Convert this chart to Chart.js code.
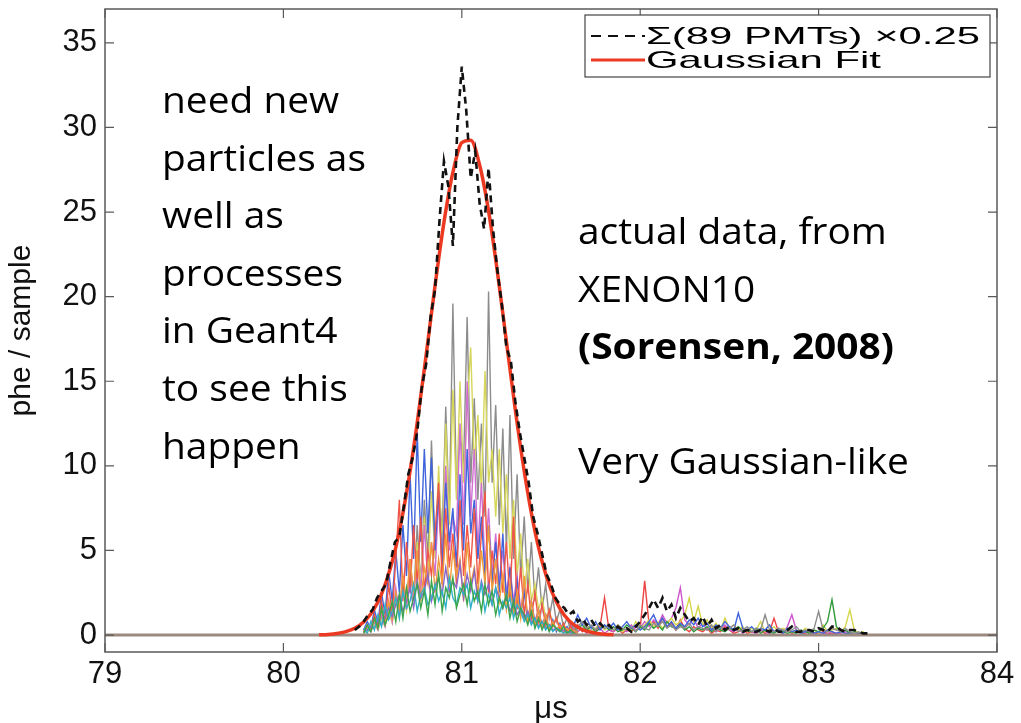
<!DOCTYPE html>
<html>
<head>
<meta charset="utf-8">
<script src="https://cdn.jsdelivr.net/npm/chart.js@4.4.1/dist/chart.umd.min.js"></script>
<style>
  html, body { margin: 0; padding: 0; background: #fff; }
  #wrap { position: relative; width: 1021px; height: 723px; }
  .note { position: absolute; font-family: "Open Sans", sans-serif; font-size: 36px; line-height: 57.6px; color: #000;
          white-space: nowrap; transform: scaleX(1.08); transform-origin: 0 0; }
</style>
</head>
<body>
<div id="wrap">
  <canvas id="chart" width="1021" height="723"></canvas>
  <div class="note" style="left:162px; top:71px;">need new<br>particles as<br>well as<br>processes<br>in Geant4<br>to see this<br>happen</div>
  <div class="note" style="left:578px; top:202px;">actual data, from<br>XENON10<br><b>(Sorensen, 2008)</b><br><br>Very Gaussian-like</div>
</div>
<script>
// axis ticks
const xTicks = [79, 80, 81, 82, 83, 84];
const yTicks = [0, 5, 10, 15, 20, 25, 30, 35];

// sample times (µs)
const tMain = [80.45,80.47,80.49,80.51,80.53,80.55,80.57,80.59,80.61,80.63,80.65,80.67,80.69,80.71,80.73,80.75,80.77,80.79,80.81,80.83,
  80.85,80.87,80.89,80.91,80.93,80.95,80.97,80.99,81.01,81.03,81.05,81.07,81.09,81.11,81.13,81.15,81.17,81.19,81.21,81.23,
  81.25,81.27,81.29,81.31,81.33,81.35,81.37,81.39,81.41,81.43,81.45,81.47,81.49,81.51,81.53,81.55,81.57,81.59,81.61,81.63,81.65];
const tTail = [81.600,81.625,81.650,81.675,81.700,81.725,81.750,81.775,81.800,81.825,81.850,81.875,81.900,81.925,81.950,81.975,
  82.000,82.025,82.050,82.075,82.100,82.125,82.150,82.175,82.200,82.225,82.250,82.275,82.300,82.325,82.350,82.375,82.400,82.425,
  82.450,82.475,82.500,82.525,82.550,82.575,82.600,82.625,82.650,82.675,82.700,82.725,82.750,82.775,82.800,82.825,82.850,82.875,
  82.900,82.925,82.950,82.975,83.000,83.025,83.050,83.075,83.100,83.125,83.150,83.175,83.200,83.225,83.250,83.275,83.300];
const tSum = [80.400,80.425,80.450,80.475,80.500,80.525,80.550,80.575,80.600,80.625,80.650,80.675,80.700,80.725,80.750,80.775,
  80.800,80.825,80.850,80.875,80.900,80.925,80.950,80.975,81.000,81.025,81.050,81.075,81.100,81.125,81.150,81.175,81.200,81.225,
  81.250,81.275,81.300,81.325,81.350,81.375,81.400,81.425,81.450,81.475,81.500,81.525,81.550,81.575];
const tFit = [80.20,80.25,80.30,80.35,80.40,80.45,80.50,80.55,80.60,80.65,80.70,80.75,80.80,80.85,80.90,80.95,81.00,81.05,
  81.10,81.15,81.20,81.25,81.30,81.35,81.40,81.45,81.50,81.55,81.60,81.65,81.70,81.75,81.80,81.85];
const tBase = [79, 84];

// summed signal x0.25 (dashed)
const sumMain = [0.3,0.5,0.8,1.2,1.5,2.2,2.6,3.0,4.3,5.5,5.8,7.6,9.5,10.5,12.0,14.6,16.0,18.8,20.4,24.5,28.0,26.5,23.0,30.0,
  33.6,31.0,27.0,28.6,25.5,24.0,27.6,24.0,21.5,19.5,17.0,16.2,13.8,12.0,10.5,9.0,7.0,6.0,4.8,3.6,3.0,2.2,1.8,1.6];
const sumTail = [1.2,1.4,0.8,1.0,0.6,0.9,0.5,0.7,0.4,0.6,0.3,0.5,0.3,0.4,0.2,0.5,
  0.8,1.2,1.6,2.1,1.6,2.2,1.4,1.8,1.0,1.6,1.2,0.8,1.0,0.6,1.1,0.5,0.9,0.4,0.6,0.3,0.5,0.3,0.4,0.2,
  0.3,0.2,0.2,0.3,0.3,0.2,0.4,0.2,0.2,0.3,0.5,0.2,0.2,0.3,0.3,0.2,
  0.4,0.3,0.2,0.5,0.5,0.3,0.2,0.3,0.3,0.2,0.1,0.1,0.0];

// Gaussian fit
const fitVals = [0.02,0.04,0.09,0.20,0.40,0.77,1.40,2.42,3.96,6.14,9.02,12.55,16.54,20.64,24.40,27.34,29.10,29.25,
  27.78,25.07,21.43,17.36,13.31,9.68,6.66,4.35,2.69,1.57,0.87,0.46,0.23,0.11,0.05,0.02];
const baseVals = [0, 0];

// single PMT traces, main pulse
const pmtGray = [0.2,0.5,0.3,0.8,0.4,1.0,0.6,1.5,0.8,2.0, 1.2,3.5,1.5,4.0,2.0,6.5,3.0,8.0,4.5,11.5,
  5.0,9.0,6.0,13.5,7.0,19.6,8.5,12.0,10.0,18.8, 9.0,14.0,8.0,12.5,7.0,20.3,9.0,13.6,6.5,12.2,
  5.0,13.0,4.5,9.5,3.5,7.0,2.5,5.5,2.0,4.0, 1.5,3.0,1.0,2.2,0.8,1.5,0.5,1.0,0.3,0.6,0.2];
const pmtYellow = [0.1,0.3,0.2,0.6,0.3,0.9,0.5,1.4,0.7,2.2, 1.0,3.0,1.5,4.5,2.0,5.5,3.0,7.0,3.5,8.5,
  4.5,10.0,5.0,12.5,6.5,14.5,8.0,15.0,9.0,13.5, 17.0,10.0,13.0,8.5,15.6,9.0,11.0,7.0,11.0,6.0,
  9.5,4.5,8.0,3.5,6.0,2.5,4.5,2.0,3.0,1.5, 2.2,1.0,1.5,0.6,1.0,0.4,0.6,0.2,0.4,0.1,0.2];
const pmtBlue = [0.3,0.8,0.4,1.5,0.7,2.5,1.2,3.8,2.0,5.0, 2.5,6.5,3.5,9.5,4.5,12.0,5.5,11.0,6.0,10.5,
  5.0,8.5,4.0,9.0,5.5,7.5,4.0,9.5,5.0,11.0, 6.0,8.0,4.5,7.0,3.5,6.5,3.0,5.5,2.5,6.0,
  2.0,4.0,1.5,3.2,1.2,2.5,0.8,2.0,0.6,1.5, 0.5,1.2,0.3,0.9,0.2,0.7,0.2,0.5,0.1,0.3,0.1];
const pmtRed = [0.2,0.6,0.3,1.2,0.5,2.0,0.8,3.0,1.2,4.5, 8.0,2.0,5.5,2.5,6.5,3.0,7.0,2.5,5.0,3.5,
  6.0,9.0,3.0,7.5,4.0,6.0,3.0,8.0,3.5,6.5, 4.0,7.5,3.0,6.0,8.5,2.5,5.0,3.0,6.0,2.5,
  5.5,2.0,7.0,1.5,4.0,1.2,3.0,1.0,2.5,0.8, 1.8,0.6,1.5,0.5,1.0,0.3,0.7,0.2,0.5,0.1,0.2];
const pmtMagenta = [0.1,0.4,0.2,0.8,0.3,1.2,0.5,2.0,0.8,2.8, 1.2,3.5,1.5,4.5,2.0,5.0,2.5,6.5,3.0,5.5,
  3.5,8.0,4.0,10.0,5.0,7.0,6.0,12.5,6.5,15.0, 7.0,11.0,5.0,9.0,4.0,7.5,3.5,6.0,3.0,5.0,
  2.5,4.0,2.0,3.5,1.5,2.8,1.0,2.0,0.8,1.5, 0.5,1.0,0.4,0.8,0.3,0.5,0.2,0.4,0.1,0.2,0.1];
const pmtOrange = [0.2,0.5,0.3,0.9,0.4,1.5,0.7,2.0,1.0,2.5, 1.5,3.5,2.0,4.5,2.5,5.0,2.0,4.0,3.0,5.5,
  2.5,4.5,3.0,6.0,2.5,5.0,3.5,4.5,2.0,5.5, 3.0,4.0,2.5,5.0,3.0,6.5,2.5,4.5,2.0,3.5,
  1.5,3.0,1.2,2.5,1.0,3.5,0.8,2.0,0.6,1.5, 0.5,1.2,0.4,0.8,0.3,0.6,0.2,0.4,0.1,0.3,0.1];
const pmtGreen = [0.1,0.6,0.2,1.0,0.4,1.6,0.6,1.2,2.0,0.8, 2.4,1.0,2.8,1.4,2.2,3.0,1.6,2.6,1.2,3.2,
  1.8,3.6,1.4,2.8,2.2,3.4,1.6,2.4,3.0,1.8, 3.2,2.0,2.6,1.4,3.0,1.8,2.6,1.2,2.2,1.6,
  2.4,1.0,2.0,0.8,1.6,1.2,0.6,1.4,0.4,1.0, 0.3,0.8,0.2,0.6,0.4,0.2,0.5,0.1,0.3,0.1,0.0];
const pmtCyan = [0.4,0.1,0.8,0.3,1.2,0.5,1.8,0.9,1.4,2.2, 1.0,2.6,1.6,2.0,3.0,1.4,2.4,2.8,1.8,2.2,
  3.0,2.0,2.6,1.6,3.4,2.2,1.8,2.8,2.4,3.0, 1.6,2.6,2.0,3.0,1.4,2.4,1.8,2.8,1.2,2.0,
  1.6,2.2,1.0,1.8,1.4,0.8,1.2,0.6,1.0,0.4, 0.8,0.3,0.6,0.2,0.4,0.3,0.1,0.2,0.1,0.1,0.0];
const pmtPurple = [0.2,0.3,0.5,0.4,0.9,0.6,1.0,1.6,1.1,1.8, 2.4,1.4,2.0,2.8,1.6,3.2,2.2,2.6,3.6,2.0,
  2.8,3.4,2.4,4.0,2.6,3.2,2.8,4.2,2.2,3.6, 2.6,3.8,2.0,3.2,2.4,3.0,1.8,2.8,2.2,1.6,
  2.4,1.4,2.0,1.2,1.6,1.0,1.4,0.7,1.0,0.5, 0.8,0.4,0.6,0.3,0.4,0.2,0.3,0.1,0.2,0.1,0.0];

// single PMT traces, late tail
const tailRed = [0.8,0.3,0.6,0.2,0.4,0.1,0.3,0.5,2.2,0.3, 0.2,0.4,0.1,0.3,0.2,0.5,0.4,3.2,0.6,0.8,
  0.4,1.0,0.5,0.7,0.3,0.9,0.4,0.2,0.5,0.3, 0.2,0.4,0.1,0.3,0.2,0.5,0.3,0.1,0.2,0.4,
  0.1,0.2,0.1,0.3,0.1,0.2,1.0,0.2,0.1,0.3, 0.1,0.2,0.1,0.1,0.2,0.1,0.1,0.2,0.1,0.1, 0.1,0.2,0.1,0.1,0.0,0.1,0.0,0.0,0.0];
const tailMagenta = [0.3,0.6,0.2,0.4,0.1,0.3,0.2,0.4,0.1,0.3, 0.2,0.5,0.3,0.2,0.6,0.3,0.4,0.8,0.5,0.9,
  0.6,1.2,0.7,1.0,1.6,2.8,0.9,0.6,1.0,0.4, 0.7,0.3,0.5,0.2,0.4,0.6,0.3,0.2,0.4,0.1,
  0.3,0.2,0.1,0.3,0.2,0.1,0.2,0.4,0.1,0.5, 1.2,0.3,0.1,0.2,0.1,0.1,0.2,0.1,0.1,0.2, 0.1,0.1,0.2,0.1,0.0,0.1,0.0,0.0,0.0];
const tailYellow = [0.4,0.2,0.5,0.3,0.6,0.2,0.4,0.7,0.3,0.5, 0.3,0.6,0.2,0.4,0.3,0.8,0.4,0.6,0.9,0.5,
  0.8,0.4,0.7,1.0,0.6,0.8,1.2,2.2,0.8,1.7, 0.6,0.9,0.4,0.7,0.3,1.0,0.4,0.6,0.3,0.5,
  0.2,0.4,0.3,0.8,0.2,0.3,0.5,0.2,0.4,0.3, 0.2,0.3,0.1,0.4,0.2,0.3,0.1,0.6,0.2,0.3, 0.4,0.2,0.5,1.5,0.3,0.1,0.2,0.0,0.0];
const tailGreen = [0.5,0.2,0.4,0.6,0.3,0.5,0.2,0.4,0.6,0.3, 0.5,0.2,0.3,0.6,0.4,0.2,0.5,0.3,0.7,0.4,
  0.6,0.3,0.8,0.5,0.4,0.6,0.3,0.5,0.2,0.4, 0.3,0.5,0.2,0.4,0.3,0.2,0.4,0.3,0.5,0.2,
  0.3,0.2,0.4,0.1,0.3,0.2,0.1,0.3,0.2,0.1, 0.2,0.1,0.3,0.2,0.1,0.3,0.2,0.4,0.8,2.1, 0.5,0.2,0.3,0.1,0.2,0.1,0.0,0.0,0.0];
const tailBlue = [0.9,0.5,1.2,0.6,1.0,0.4,0.8,0.3,0.6,0.4, 0.7,0.3,0.5,0.8,0.4,0.6,0.3,0.5,0.8,1.2,
  0.6,1.0,0.5,0.8,0.4,0.7,0.5,0.9,0.6,1.0, 0.5,0.7,0.3,0.6,0.4,0.8,0.5,0.3,1.3,0.4,
  0.3,0.5,0.2,0.4,0.3,0.6,0.2,0.3,0.1,0.4, 0.2,0.3,0.1,0.2,0.3,0.1,0.2,0.1,0.3,0.2, 0.1,0.2,0.1,0.1,0.0,0.1,0.0,0.0,0.0];
const tailGray = [0.6,0.3,0.5,0.8,0.4,0.6,0.3,0.7,0.4,0.5, 0.3,0.6,0.4,0.3,0.5,0.2,0.6,0.4,0.3,0.7,
  0.5,0.8,0.4,0.6,0.3,0.5,0.4,0.7,0.3,0.5, 0.4,0.3,0.6,0.2,0.5,0.3,0.4,0.6,0.2,0.3,
  0.5,0.2,0.4,0.3,1.2,0.3,0.2,0.4,0.3,0.2, 0.3,0.5,0.2,0.3,0.2,0.4,1.4,0.3,0.2,0.4, 0.3,0.2,0.4,0.2,0.1,0.2,0.0,0.0,0.0];

const sumLabel = 'Σ(89 PMTs) ×0.25';
const fitLabel = 'Gaussian Fit';

const pts = (xs, ys) => xs.map((x, i) => ({ x: x, y: ys[i] }));

const trace = (xs, ys, color) => ({
  data: pts(xs, ys), borderColor: color, borderWidth: 1.4, order: 3
});

const datasets = [
  { label: sumLabel, data: pts(tSum, sumMain).concat(pts(tTail, sumTail)), borderColor: '#111',
    borderWidth: 2.6, borderDash: [7, 5], order: 0, inLegend: true },
  { label: fitLabel, data: pts(tFit, fitVals), borderColor: '#ec3a22', borderWidth: 3.5,
    cubicInterpolationMode: 'monotone', order: 1, inLegend: true },
  { data: pts(tBase, baseVals), borderColor: '#9c8a80', borderWidth: 3, order: 2 },
  trace(tMain, pmtGreen, '#3aa54a'),
  trace(tMain, pmtCyan, '#2fb0c8'),
  trace(tMain, pmtPurple, '#8a66c8'),
  trace(tMain, pmtOrange, '#f09a3a'),
  trace(tMain, pmtRed, '#f05548'),
  trace(tMain, pmtBlue, '#3f64dc'),
  trace(tMain, pmtMagenta, '#d070d0'),
  trace(tMain, pmtYellow, '#d6d65a'),
  trace(tMain, pmtGray, '#8c8c8c'),
  trace(tTail, tailGray, '#8c8c8c'),
  trace(tTail, tailBlue, '#3f64dc'),
  trace(tTail, tailGreen, '#2f9a3a'),
  trace(tTail, tailYellow, '#d6d64a'),
  trace(tTail, tailMagenta, '#cc55cc'),
  trace(tTail, tailRed, '#ee4444')
];

const axisFont = { family: 'Liberation Sans', size: 31 };

// box round the plot and small ticks pointing inward
const frame = {
  id: 'frame',
  afterDatasetsDraw(chart) {
    const { ctx, chartArea: a, scales: { x, y } } = chart;
    ctx.save();
    ctx.strokeStyle = '#5a5a5a';
    ctx.lineWidth = 1.5;
    ctx.strokeRect(a.left, a.top, a.right - a.left, a.bottom - a.top);
    ctx.lineWidth = 1.2;
    ctx.beginPath();
    x.ticks.forEach(t => {
      const px = x.getPixelForValue(t.value);
      ctx.moveTo(px, a.bottom); ctx.lineTo(px, a.bottom - 9);
      ctx.moveTo(px, a.top); ctx.lineTo(px, a.top + 9);
    });
    y.ticks.forEach(t => {
      const py = y.getPixelForValue(t.value);
      ctx.moveTo(a.left, py); ctx.lineTo(a.left + 9, py);
      ctx.moveTo(a.right, py); ctx.lineTo(a.right - 9, py);
    });
    ctx.stroke();
    ctx.restore();
  }
};

// legend box inside the plot, top right
const legendBox = {
  id: 'legendBox',
  afterDraw(chart) {
    const { ctx, chartArea: a } = chart;
    const items = chart.data.datasets.filter(d => d.inLegend);
    const bw = 405, bh = 62;
    const bx = a.right - 7 - bw, by = a.top + 6;
    ctx.save();
    ctx.fillStyle = '#fff';
    ctx.fillRect(bx, by, bw, bh);
    ctx.strokeStyle = '#444';
    ctx.lineWidth = 1.2;
    ctx.strokeRect(bx, by, bw, bh);
    ctx.font = '24px "Liberation Sans"';
    const stretch = 334 / ctx.measureText(items[0].label).width;
    items.forEach((d, i) => {
      const ry = by + 21 + i * 24;
      ctx.beginPath();
      ctx.strokeStyle = d.borderColor;
      ctx.lineWidth = i === 0 ? 2 : 3;
      ctx.setLineDash(d.borderDash ? [10, 7] : []);
      ctx.moveTo(bx + 6, ry);
      ctx.lineTo(bx + 60, ry);
      ctx.stroke();
      ctx.setLineDash([]);
      ctx.save();
      ctx.translate(bx + 61, ry);
      ctx.scale(stretch, 1);
      ctx.fillStyle = '#000';
      ctx.textBaseline = 'middle';
      ctx.fillText(d.label, 0, 1);
      ctx.restore();
    });
    ctx.restore();
  }
};

new Chart(document.getElementById('chart'), {
  type: 'line',
  data: { datasets: datasets },
  options: {
    responsive: false,
    animation: false,
    events: [],
    layout: { padding: { top: 9, right: 24, bottom: 0, left: 0 } },
    elements: { point: { radius: 0 }, line: { tension: 0, fill: false } },
    plugins: { legend: { display: false }, tooltip: { enabled: false } },
    scales: {
      x: {
        type: 'linear', min: 79, max: 84,
        afterBuildTicks: s => { s.ticks = xTicks.map(v => ({ value: v })); },
        afterFit: s => { s.height = 71; s.paddingLeft = 0; s.paddingRight = 0; },
        grid: { display: false, drawTicks: false },
        border: { display: false },
        ticks: { font: axisFont, color: '#111', padding: 4, maxRotation: 0, autoSkip: false },
        title: { display: true, text: 'μs', font: axisFont, color: '#111', padding: { top: 0, bottom: -5 } }
      },
      y: {
        type: 'linear', min: -1, max: 37,
        afterBuildTicks: s => { s.ticks = yTicks.map(v => ({ value: v })); },
        afterFit: s => { s.width = 105; s.paddingTop = 0; s.paddingBottom = 0; },
        grid: { display: false, drawTicks: false },
        border: { display: false },
        ticks: { font: axisFont, color: '#111', padding: 8 },
        title: { display: true, text: 'phe / sample', font: { family: 'Liberation Sans', size: 30 }, color: '#111', padding: { top: 4, bottom: 0 } }
      }
    }
  },
  plugins: [frame, legendBox]
});
</script>
</body>
</html>
